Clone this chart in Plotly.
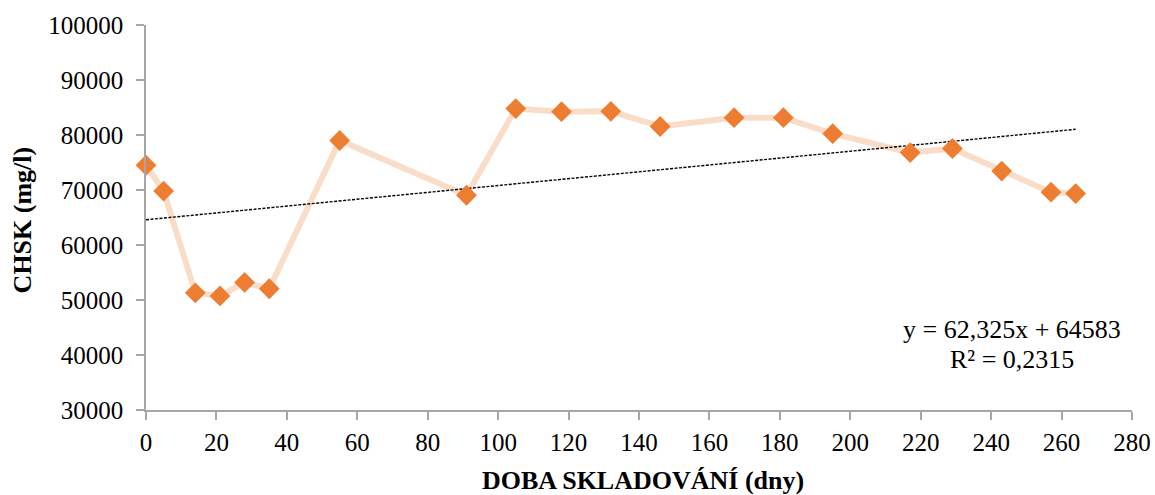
import plotly.graph_objects as go

# Data
days = [0, 5, 14, 21, 28, 35, 55, 91, 105, 118, 132, 146, 167, 181, 195, 217, 229, 243, 257, 264]
chsk = [74500, 69800, 51300, 50750, 53200, 52050, 79000, 69050, 84800, 84250, 84300, 81550,
        83150, 83150, 80250, 76800, 77550, 73450, 69600, 69350]

# Linear trendline (as shown on the chart)
trend_slope = 62.325
trend_intercept = 64583
trend_text = ["y = 62,325x + 64583", "R² = 0,2315"]

x_ticks = list(range(0, 281, 20))
y_ticks = list(range(30000, 100001, 10000))
y_ticklabels = [str(v) for v in y_ticks]

FONT = "Liberation Serif"

fig = go.Figure()

trend_x = [min(days), max(days)]
trend_y = [trend_slope * v + trend_intercept for v in trend_x]

fig.add_trace(go.Scatter(
    x=days, y=chsk, mode="lines",
    line=dict(color="#F9DDC9", width=6), cliponaxis=False,
    hoverinfo="skip", showlegend=False))

fig.add_trace(go.Scatter(
    x=trend_x, y=trend_y, mode="lines",
    line=dict(color="#000000", width=1.4, dash="3px,1.5px"),
    showlegend=False))

fig.add_trace(go.Scatter(
    x=days, y=chsk, mode="markers", cliponaxis=False,
    marker=dict(symbol="diamond", size=16, color="#ED7D31", line=dict(width=0)),
    showlegend=False))

axis_common = dict(
    showgrid=False, zeroline=False, showline=True, linecolor="#A6A6A6", linewidth=1.5,
    ticks="outside", ticklen=8, tickwidth=1.5, tickcolor="#A6A6A6", automargin=False,
    tickfont=dict(family=FONT, size=25, color="#000000"),
)

fig.update_layout(
    width=1155, height=495, autosize=False,
    margin=dict(l=146, r=23, t=25, b=85, autoexpand=False),
    paper_bgcolor="white", plot_bgcolor="white",
    xaxis=dict(range=[0, 280], tickvals=x_ticks, ticklabelstandoff=1, **axis_common),
    yaxis=dict(range=[30000, 100000], tickvals=y_ticks, ticktext=y_ticklabels,
               ticklabelstandoff=8, **axis_common),
    font=dict(family=FONT, color="#000000"),
    annotations=[
        dict(text="<b>CHSK (mg/l)</b>", xref="paper", yref="paper", x=-0.1258, y=0.495,
             xanchor="center", yanchor="middle", textangle=-90, showarrow=False,
             font=dict(family=FONT, size=26, color="#000000")),
        dict(text="<b>DOBA SKLADOVÁNÍ (dny)</b>", xref="paper", yref="paper", x=0.504, y=-0.184,
             xanchor="center", yanchor="middle", showarrow=False,
             font=dict(family=FONT, size=26, color="#000000")),
        dict(text=trend_text[0], xref="paper", yref="paper", x=0.878, y=0.208,
             xanchor="center", yanchor="middle", showarrow=False,
             font=dict(family=FONT, size=26, color="#000000")),
        dict(text=trend_text[1], xref="paper", yref="paper", x=0.878, y=0.13,
             xanchor="center", yanchor="middle", showarrow=False,
             font=dict(family=FONT, size=26, color="#000000")),
    ],
)

fig.write_html("out.html")
